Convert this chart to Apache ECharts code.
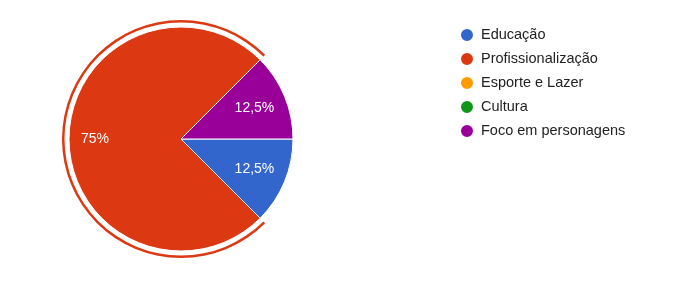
<!DOCTYPE html>
<html>
<head>
<meta charset="utf-8">
<script src="https://cdn.jsdelivr.net/npm/echarts@6/dist/echarts.min.js"></script>
<style>
  html, body { margin: 0; padding: 0; background: #fff; }
  #chart { width: 692px; height: 294px; }
</style>
</head>
<body>
<div id="chart"></div>
<script>
const categories = ['Educação', 'Profissionalização', 'Esporte e Lazer', 'Cultura', 'Foco em personagens']
const values = [1, 6, 0, 0, 1]
const labels = ['12,5%', '75%', '', '', '12,5%']
const colors = ['#3366cc', '#dc3912', '#ff9900', '#109618', '#990099']
const highlighted = 'Profissionalização'

const FONT = '"Liberation Sans", Arial, sans-serif'
const center = [181, 139]

const chart = echarts.init(document.getElementById('chart'), null, { renderer: 'canvas' })

const sliceData = categories.map((name, i) => ({
  name, value: values[i], itemStyle: { color: colors[i] },
}))

// labels sit at different distances, like the original
const labelSeries = (radius, pick) => ({
  type: 'pie',
  center, radius: [0, radius],
  startAngle: 0,
  silent: true,
  legendHoverLink: false,
  data: categories.map((name, i) => ({
    name: name + '_lbl', value: values[i],
    itemStyle: { color: 'rgba(0,0,0,0)' },
    label: { show: pick(name) && values[i] > 0, formatter: labels[i] },
  })),
  label: { position: 'inside', color: '#fff', fontSize: 14, fontFamily: FONT },
  labelLine: { show: false },
})

const option = {
  animation: false,
  color: colors,
  legend: {
    orient: 'vertical',
    left: 454, top: 22,
    icon: 'circle',
    itemWidth: 14, itemHeight: 14, itemGap: 8,
    data: categories,
    textStyle: { color: '#222', fontSize: 14.5, fontFamily: FONT, padding: [0, 0, 0, 2] },
  },
  series: [
    {
      type: 'pie',
      center, radius: [0, 112],
      startAngle: 0,
      data: sliceData,
      itemStyle: { borderColor: '#fff', borderWidth: 1 },
      label: { show: false },
      labelLine: { show: false },
      emphasis: { disabled: true },
    },
    {
      type: 'pie',
      center, radius: [116.5, 119],
      startAngle: 0,
      silent: true,
      legendHoverLink: false,
      data: categories.map((name, i) => ({
        name: name + '_ring', value: values[i],
        itemStyle: { color: name === highlighted ? colors[i] : 'rgba(0,0,0,0)' },
      })),
      label: { show: false },
      labelLine: { show: false },
    },
    labelSeries(153, n => n !== highlighted),
    labelSeries(166, n => n === highlighted),
  ],
}

chart.setOption(option)
</script>
</body>
</html>
